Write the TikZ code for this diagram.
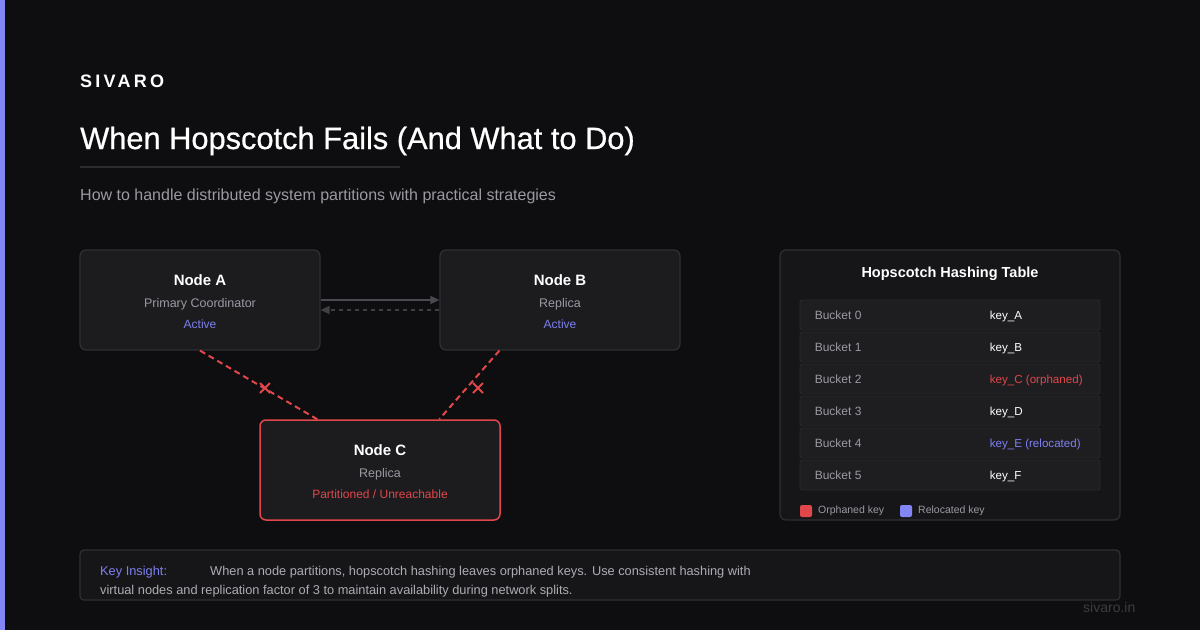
\documentclass[tikz,border=0pt]{standalone}
\usepackage{fontspec}
\setmainfont{Liberation Sans}
\usetikzlibrary{arrows.meta,calc}
\definecolor{bg}{HTML}{0E0E10}
\definecolor{accent}{HTML}{8286F5}
\definecolor{boxfill}{HTML}{1C1C1F}
\definecolor{boxline}{HTML}{2F2F34}
\definecolor{panelfill}{HTML}{161618}
\definecolor{rowfill}{HTML}{1E1E21}
\definecolor{rowline}{HTML}{2A2A2E}
\definecolor{txtgray}{HTML}{9A9AA3}
\definecolor{txtlight}{HTML}{ACACB4}
\definecolor{alert}{HTML}{E0474A}
\definecolor{relo}{HTML}{7D80F0}
\definecolor{arrowgray}{HTML}{4A4A50}
\definecolor{footgray}{HTML}{3C3C42}
\definecolor{rulegray}{HTML}{2C2C30}
\tikzset{
  fs/.style={font=\fontsize{#1}{#1}\selectfont},
  cardbox/.style={draw=boxline, fill=boxfill, line width=1.2pt, rounded corners=6pt, minimum width=240pt, minimum height=100pt, inner sep=0pt},
  alertbox/.style={cardbox, draw=alert, line width=1.5pt},
  rowbox/.style={draw=rowline, fill=rowfill, line width=0.8pt, rounded corners=2pt, minimum width=300pt, minimum height=30pt, inner sep=0pt},
  ntitle/.style={text=white, font=\fontsize{15}{15}\selectfont\bfseries, inner sep=0pt},
  nsub/.style={fs=12.5, text=txtgray, inner sep=0pt},
  nstat/.style={fs=12, inner sep=0pt},
  cell/.style={fs=12, anchor=base west, inner sep=0pt},
  cut/.style={draw=alert, line width=2pt, dash pattern=on 6pt off 4pt},
  xmark/.style={draw=alert, line width=2pt},
  link/.style={draw=arrowgray, line width=1.5pt},
}
\begin{document}
\begin{tikzpicture}[x=1pt,y=-1pt]
\useasboundingbox (0,0) rectangle (1200,630);
\fill[bg] (0,0) rectangle (1200,630);
\fill[accent] (0,0) rectangle (5,630);

% header
\node[anchor=base west, inner sep=0pt, text=white, font=\fontsize{18}{18}\selectfont\bfseries\addfontfeature{LetterSpace=18}] (brand) at (80,87) {SIVARO};
\node[anchor=base west, inner sep=0pt, text=white, font=\fontsize{30.8}{31}\selectfont\addfontfeature{FakeBold=0.6}] (title) at (80,149) {When Hopscotch Fails (And What to Do)};
\draw[rulegray, line width=2pt] (80,167) -- (400,167);
\node[anchor=base west, inner sep=0pt, text=txtgray, fs=16] (subtitle) at (80,200.5) {How to handle distributed system partitions with practical strategies};

% cards
\node[cardbox] (A) at (200,300) {};
\node[cardbox] (B) at (560,300) {};
\node[alertbox] (C) at (380,470) {};

\node[ntitle] at (200,280) {Node A};
\node[nsub] at (200,304) {Primary Coordinator};
\node[nstat, text=relo] at (200,324) {Active};

\node[ntitle] at (560,280) {Node B};
\node[nsub] at (560,304) {Replica};
\node[nstat, text=relo] at (560,324) {Active};

\node[ntitle] at (380,450) {Node C};
\node[nsub] at (380,474) {Replica};
\node[nstat, text=alert] at (380,494) {Partitioned / Unreachable};

% A <-> B
\draw[link, -{Triangle[length=9pt,width=8pt]}] (A.east) -- (B.west);
\draw[link, draw=arrowgray!85!black, dash pattern=on 4pt off 4pt, -{Triangle[length=9pt,width=8pt]}] ([yshift=-10pt]B.west) -- ([yshift=-10pt]A.east);

% broken links
\coordinate (Cl) at ($(C.north west)+(58,0)$);
\coordinate (Cr) at ($(C.north west)+(180,0)$);
\coordinate (Bl) at ($(B.south west)+(60,0)$);
\draw[cut] (A.south) -- (Cl);
\draw[cut] (Bl) -- (Cr);
\coordinate (x1) at (265,388);
\coordinate (x2) at (478,388);
\draw[xmark] ($(x1)+(-5,-5)$) -- ($(x1)+(5,5)$) ($(x1)+(-5,5)$) -- ($(x1)+(5,-5)$);
\draw[xmark] ($(x2)+(-5,-5)$) -- ($(x2)+(5,5)$) ($(x2)+(-5,5)$) -- ($(x2)+(5,-5)$);

% table panel
\node[draw=boxline, fill=panelfill, line width=1.2pt, rounded corners=6pt, minimum width=340pt, minimum height=270pt, inner sep=0pt] (T) at (950,385) {};
\node[text=white, font=\fontsize{14.5}{15}\selectfont\bfseries, inner sep=0pt] at (950,274) {Hopscotch Hashing Table};
\foreach \i/\k/\c in {0/key\_A/white, 1/key\_B/white, 2/key\_C (orphaned)/alert, 3/key\_D/white, 4/key\_E (relocated)/relo, 5/key\_F/white}{
  \node[rowbox] (r\i) at (950,{315+32*\i}) {};
  \node[cell, text=txtgray] (b\i) at ([xshift=15pt,yshift=-4.5pt]r\i.west) {Bucket \i};
  \node[cell, text=\c, fs=11.6] (k\i) at ([xshift=190pt,yshift=-4.5pt]r\i.west) {\k};
}
% legend
\node[fill=alert, minimum size=12pt, inner sep=0pt, rounded corners=2pt] (l1) at (806,511) {};
\node[anchor=west, inner sep=0pt, fs=10.5, text=txtgray] at (818,511) {Orphaned key};
\node[fill=accent, minimum size=12pt, inner sep=0pt, rounded corners=2pt] (l2) at (906,511) {};
\node[anchor=west, inner sep=0pt, fs=10.5, text=txtgray] at (918,511) {Relocated key};

% insight
\node[draw=boxline, fill=panelfill, line width=1.2pt, rounded corners=4pt, minimum width=1040pt, minimum height=50pt, inner sep=0pt] (I) at (600,575) {};
\node[anchor=base west, inner sep=0pt, fs=12.8, text=relo] at (100,575) {Key Insight:};
\node[anchor=base west, inner sep=0pt, fs=12.8, text=txtlight] at (210,575) {When a node partitions, hopscotch hashing leaves orphaned keys. Use consistent hashing with};
\node[anchor=base west, inner sep=0pt, fs=12.8, text=txtlight] at (100,594) {virtual nodes and replication factor of 3 to maintain availability during network splits.};

\node[anchor=base west, inner sep=0pt, fs=14, text=footgray] at (1083,612) {sivaro.in};
\end{tikzpicture}
\end{document}
